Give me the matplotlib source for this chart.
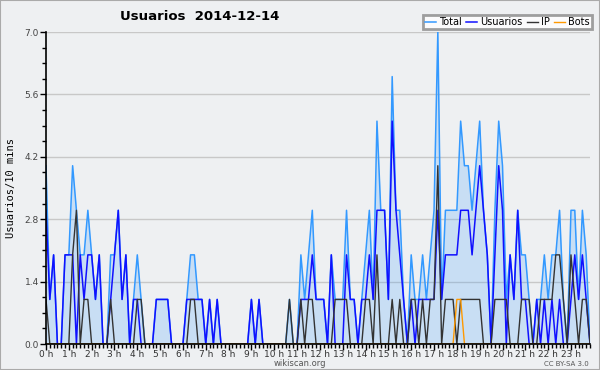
import numpy as np
import matplotlib
matplotlib.use("Agg")
import matplotlib.pyplot as plt
from matplotlib.ticker import MultipleLocator, FixedLocator

# 10-minute slots over the day (144 points)
total = [4, 1, 2, 0, 0, 2, 2, 4, 3, 2, 2, 3, 2, 1, 2, 0, 0, 2, 2, 3, 1, 2, 0, 1,
         2, 1, 0, 0, 0, 1, 1, 1, 1, 0, 0, 0, 0, 1, 2, 2, 1, 1, 0, 1, 0, 1, 0, 0,
         0, 0, 0, 0, 0, 0, 1, 0, 1, 0, 0, 0, 0, 0, 0, 0, 1, 0, 0, 2, 1, 2, 3, 1,
         1, 1, 0, 2, 1, 1, 1, 3, 1, 1, 0, 1, 2, 3, 1, 5, 3, 3, 1, 6, 3, 3, 1, 0,
         2, 1, 1, 2, 1, 2, 3, 7, 1, 3, 3, 3, 3, 5, 4, 4, 3, 4, 5, 3, 2, 0, 3, 5,
         4, 1, 2, 1, 3, 2, 2, 1, 0, 1, 1, 2, 1, 2, 2, 3, 1, 0, 3, 3, 1, 3, 2, 0]
usuarios = [3, 1, 2, 0, 0, 2, 2, 2, 0, 2, 1, 2, 2, 1, 2, 0, 0, 1, 2, 3, 1, 2, 0, 1,
            1, 0, 0, 0, 0, 1, 1, 1, 1, 0, 0, 0, 0, 1, 1, 1, 1, 1, 0, 1, 0, 1, 0, 0,
            0, 0, 0, 0, 0, 0, 1, 0, 1, 0, 0, 0, 0, 0, 0, 0, 0, 0, 0, 1, 1, 1, 2, 1,
            1, 1, 0, 2, 0, 0, 0, 2, 1, 1, 0, 1, 1, 2, 1, 3, 3, 3, 1, 5, 3, 2, 1, 0,
            1, 0, 1, 1, 1, 1, 1, 3, 1, 2, 2, 2, 2, 3, 3, 3, 2, 3, 4, 3, 2, 0, 2, 4,
            3, 0, 2, 1, 3, 1, 1, 0, 0, 1, 0, 1, 0, 1, 0, 1, 0, 0, 1, 2, 1, 2, 1, 0]
ip = [1, 0, 0, 0, 0, 0, 0, 2, 3, 0, 1, 1, 0, 0, 0, 0, 0, 1, 0, 0, 0, 0, 0, 0,
      1, 1, 0, 0, 0, 0, 0, 0, 0, 0, 0, 0, 0, 0, 1, 1, 0, 0, 0, 0, 0, 0, 0, 0,
      0, 0, 0, 0, 0, 0, 0, 0, 0, 0, 0, 0, 0, 0, 0, 0, 1, 0, 0, 1, 0, 1, 1, 0,
      0, 0, 0, 0, 1, 1, 1, 1, 0, 0, 0, 0, 1, 1, 0, 2, 0, 0, 0, 1, 0, 1, 0, 0,
      1, 1, 0, 1, 0, 1, 1, 4, 0, 1, 1, 1, 0, 1, 1, 1, 1, 1, 1, 0, 0, 0, 1, 1,
      1, 1, 0, 0, 0, 1, 1, 1, 0, 0, 1, 1, 1, 1, 2, 2, 1, 0, 2, 1, 0, 1, 1, 0]
bots = [0] * 144
bots[108] = 1
bots[109] = 1

hour_labels = ["%d h" % h for h in range(24)]
title = "Usuarios  2014-12-14"

bg = "#eef0f2"
c_total = "#3399ff"
c_user = "#1010ff"
c_ip = "#333333"
c_bots = "#ff9900"

x = np.arange(len(total))

fig = plt.figure(figsize=(6, 3.7), dpi=100, facecolor=bg)
ax = fig.add_axes([46 / 600, 1 - 344 / 370, 544 / 600, 312 / 370], facecolor=bg)

ax.fill_between(x, total, color=c_total, alpha=0.2, lw=0)
ax.plot(x, total, color=c_total, lw=1.1, label="Total")
ax.plot(x, usuarios, color=c_user, lw=1.1, label="Usuarios")
ax.plot(x, ip, color=c_ip, lw=1.0, label="IP")
ax.plot(x, bots, color=c_bots, lw=1.0, label="Bots")

ax.set_xlim(0, 143)
ax.set_ylim(0, 7.0)
ax.yaxis.set_major_locator(MultipleLocator(1.4))
ax.yaxis.set_minor_locator(MultipleLocator(0.35))
ax.yaxis.set_major_formatter(matplotlib.ticker.FormatStrFormatter("%.1f"))
ax.xaxis.set_major_locator(FixedLocator(np.arange(0, 144, 6)))
ax.xaxis.set_minor_locator(FixedLocator(np.arange(0, 144, 1)))
ax.set_xticklabels(hour_labels)
ax.grid(axis="y", color="#c8c8c8", lw=1)
ax.set_axisbelow(True)

for s in ["top", "right"]:
    ax.spines[s].set_visible(False)
for s in ["left", "bottom"]:
    ax.spines[s].set_color("black")
    ax.spines[s].set_linewidth(1.2)

ax.tick_params(axis="both", which="major", direction="out", length=4, width=1,
               labelsize=6.5, colors="black", pad=0.5)
ax.tick_params(axis="both", which="minor", direction="out", length=3, width=1)
ax.tick_params(axis="y", labelcolor="#444444", pad=1)
ax.tick_params(axis="x", labelcolor="#333333")

ax.set_ylabel("Usuarios/10 mins", family="DejaVu Sans Mono", fontsize=7.5, labelpad=6)

fig.text(120 / 600, 1 - 17 / 370, title, fontsize=9.5, fontweight="bold",
         va="center", ha="left")
fig.text(300 / 600, 1 - 363 / 370, "wikiscan.org", fontsize=6, color="#555555",
         ha="center", va="center")
fig.text(589 / 600, 1 - 363.5 / 370, "CC BY-SA 3.0", fontsize=5, color="#555555",
         ha="right", va="center")

leg = ax.legend(loc="upper right", bbox_to_anchor=(592 / 600, 1 - 15 / 370),
                bbox_transform=fig.transFigure, ncol=4, fontsize=7,
                frameon=True, fancybox=False, shadow=False, handlelength=1.1,
                handletextpad=0.35, columnspacing=0.45, borderpad=0.2,
                borderaxespad=0)
leg.get_frame().set_edgecolor("#888888")
leg.get_frame().set_linewidth(2)
leg.get_frame().set_facecolor("white")

# outer border
fig.patches.append(plt.Rectangle((0, 0), 1, 1, transform=fig.transFigure,
                                 fill=False, edgecolor="#aaaaaa", lw=1.5))

fig.savefig("out.png", dpi=100, facecolor=bg)
